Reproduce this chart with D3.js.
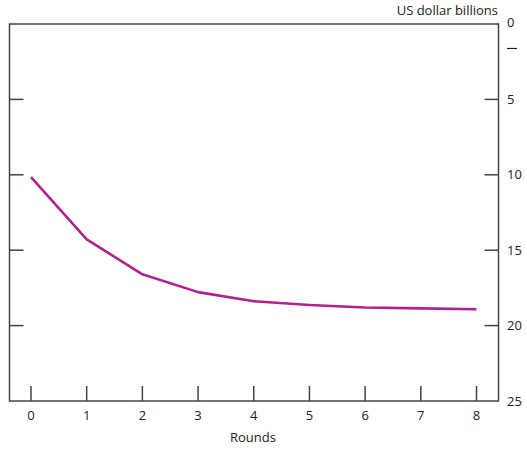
<!DOCTYPE html>
<html><head><meta charset="utf-8">
<script src="https://cdn.jsdelivr.net/npm/d3@7"></script>
<style>body{margin:0;background:#fff;}text{font-family:"Open Sans",sans-serif;fill:#222;}</style>
</head><body><svg id="c" width="527" height="450"></svg>
<script>
const rounds = [0,1,2,3,4,5,6,7,8];
const values = [10.15,14.28,16.6,17.78,18.38,18.63,18.8,18.86,18.92];
const yTicks = [5,10,15,20];
const yLabels = [0,5,10,15,20,25];
const unitLabel = "US dollar billions";
const xTitle = "Rounds";

const svg = d3.select("#c");
const L=9.5, R=498.5, T=24, B=401;
const x = d3.scaleLinear().domain([0,8]).range([31,476.5]);
const y = d3.scaleLinear().domain([0,25]).range([T,B]);
const ax = "#444";

svg.append("rect").attr("x",L).attr("y",T).attr("width",R-L).attr("height",B-T)
  .attr("fill","none").attr("stroke",ax).attr("stroke-width",1.5);

// left ticks
svg.selectAll(".lt").data(yTicks).join("line")
  .attr("x1",L).attr("x2",L+14).attr("y1",d=>y(d)).attr("y2",d=>y(d))
  .attr("stroke",ax).attr("stroke-width",1.5);
// right ticks
svg.selectAll(".rt").data(yTicks).join("line")
  .attr("x1",R-14).attr("x2",R).attr("y1",d=>y(d)).attr("y2",d=>y(d))
  .attr("stroke",ax).attr("stroke-width",1.5);
// right labels
svg.selectAll(".rl").data(yLabels).join("text")
  .attr("x",507).attr("y",d=>d===0? y(d)-2 : y(d)).attr("dy","0.35em")
  .attr("font-size",13).text(d=>d);
svg.append("line").attr("x1",507).attr("x2",517).attr("y1",48.5).attr("y2",48.5)
  .attr("stroke","#222").attr("stroke-width",1.2);
svg.append("text").attr("x",498).attr("y",15).attr("text-anchor","end")
  .attr("font-size",13).text(unitLabel);

// x ticks
svg.selectAll(".xt").data(rounds).join("line")
  .attr("x1",d=>x(d)).attr("x2",d=>x(d)).attr("y1",B-15).attr("y2",B)
  .attr("stroke",ax).attr("stroke-width",1.5);
svg.selectAll(".xl").data(rounds).join("text")
  .attr("x",d=>x(d)).attr("y",415).attr("dy","0.35em").attr("text-anchor","middle")
  .attr("font-size",13).text(d=>d);
svg.append("text").attr("x",253).attr("y",437).attr("dy","0.35em").attr("text-anchor","middle")
  .attr("font-size",13).text(xTitle);

const line = d3.line().x((d,i)=>x(rounds[i])).y(d=>y(d));
svg.append("path").datum(values).attr("d",line).attr("fill","none")
  .attr("stroke","#b0218e").attr("stroke-width",2.6).attr("stroke-linejoin","round");
</script></body></html>
